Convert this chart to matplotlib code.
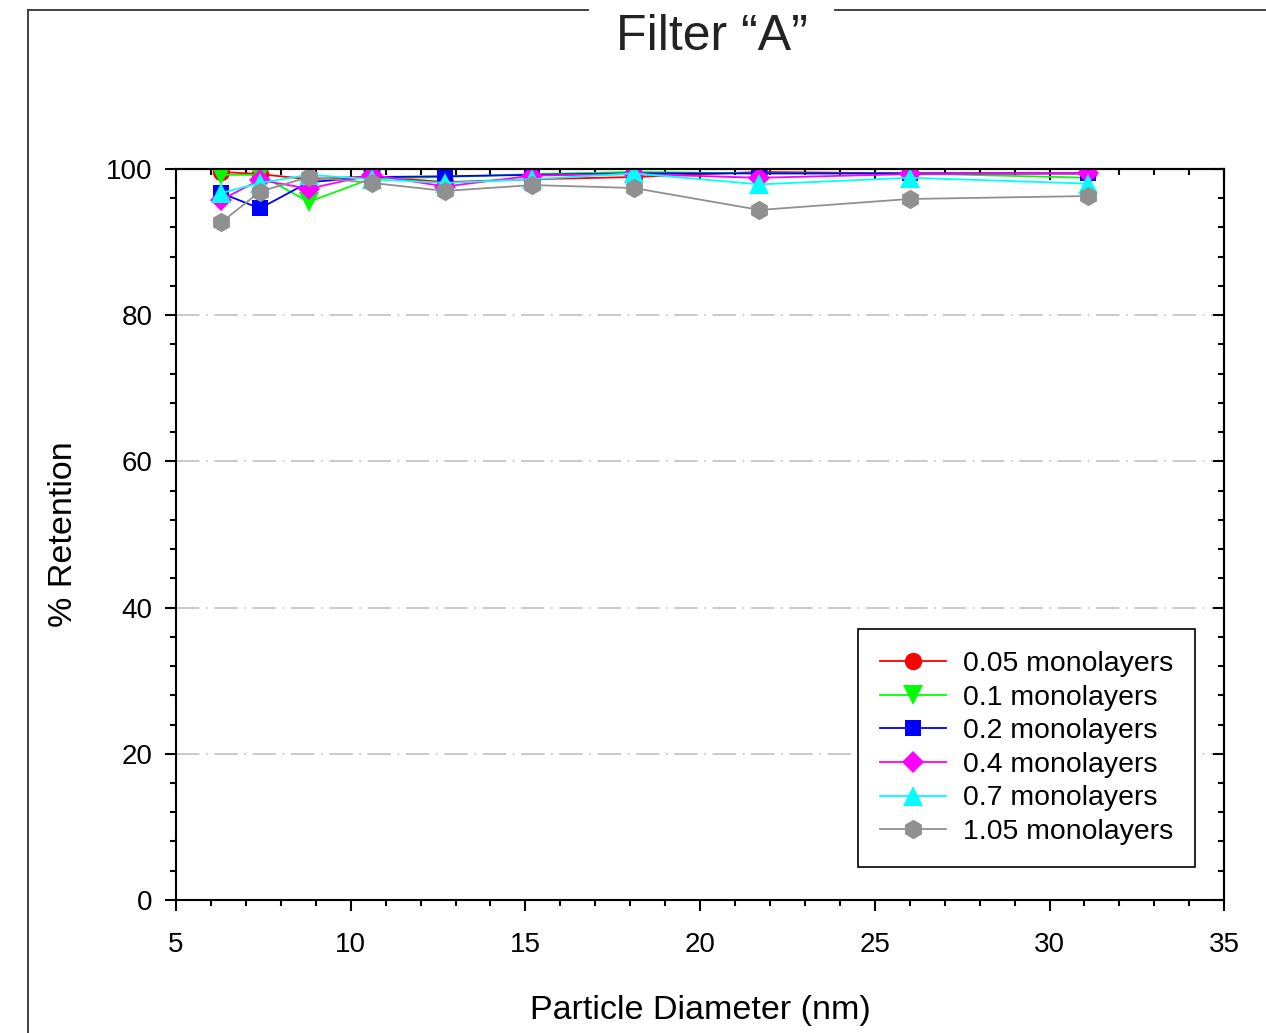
import matplotlib
matplotlib.use("Agg")
import matplotlib.pyplot as plt
from matplotlib.lines import Line2D
from matplotlib.ticker import MultipleLocator

plt.rcParams["font.family"] = ["Liberation Sans", "DejaVu Sans"]

# particle diameters (nm)
diameter = [6.3, 7.4, 8.8, 10.6, 12.7, 15.2, 18.1, 21.7, 26.0, 31.1]

labels = ["0.05 monolayers", "0.1 monolayers", "0.2 monolayers",
          "0.4 monolayers", "0.7 monolayers", "1.05 monolayers"]

ret_005 = [99.6, 99.3, 98.6, 99.0, 98.2, 98.6, 98.9, 99.6, 99.4, 99.4]
ret_01 = [99.2, 99.2, 95.5, 98.7, 98.9, 99.3, 99.6, 99.4, 99.4, 98.8]
ret_02 = [96.7, 94.6, 98.2, 98.9, 99.0, 99.2, 99.4, 99.4, 99.4, 99.4]
ret_04 = [95.8, 98.5, 97.3, 99.2, 97.6, 99.1, 99.3, 98.8, 99.3, 99.4]
ret_07 = [96.7, 98.1, 99.2, 98.6, 98.1, 98.6, 99.4, 97.9, 98.8, 98.0]
ret_105 = [92.7, 96.9, 98.9, 98.1, 97.0, 97.8, 97.4, 94.4, 95.9, 96.3]

series = [ret_005, ret_01, ret_02, ret_04, ret_07, ret_105]
colors = ["#ff0000", "#00ff00", "#0000ff", "#ff00ff", "#00ffff", "#909090"]
markers = ["o", "v", "s", "D", "^", "h"]
msizes = [12.5, 14, 12, 11, 14, 14]

fig = plt.figure(figsize=(12.66, 10.33), dpi=100)
ax = fig.add_axes([0.139, 0.1288, 0.828, 0.7076])

for y, c, m, ms, lab in zip(series, colors, markers, msizes, labels):
    ax.plot(diameter, y, color=c, marker=m, markersize=ms, linewidth=1.3,
            markeredgewidth=0, label=lab)

ax.set_xlim(5, 35)
ax.set_ylim(0, 100)
ax.xaxis.set_major_locator(MultipleLocator(5))
ax.xaxis.set_minor_locator(MultipleLocator(1))
ax.yaxis.set_major_locator(MultipleLocator(20))
ax.yaxis.set_minor_locator(MultipleLocator(4))

ax.tick_params(which="both", direction="out", top=False, right=False,
               width=1.5, labelsize=20)
ax.tick_params(which="major", length=8)
ax.tick_params(which="minor", length=4)
ax.tick_params(axis="x", which="major", pad=15)
ax.tick_params(axis="y", which="major", pad=9)

# inward ticks on top and right
sec_x = ax.secondary_xaxis("top")
sec_x.xaxis.set_major_locator(MultipleLocator(5))
sec_x.xaxis.set_minor_locator(MultipleLocator(1))
sec_x.tick_params(which="both", direction="in", width=1.5, labeltop=False)
sec_x.tick_params(which="major", length=8)
sec_x.tick_params(which="minor", length=4)
sec_y = ax.secondary_yaxis("right")
sec_y.yaxis.set_major_locator(MultipleLocator(20))
sec_y.yaxis.set_minor_locator(MultipleLocator(4))
sec_y.tick_params(which="both", direction="in", width=1.5, labelright=False)
sec_y.tick_params(which="major", length=8)
sec_y.tick_params(which="minor", length=4)
for s in ax.spines.values():
    s.set_linewidth(1.5)
sec_x.spines["top"].set_linewidth(1.5)
sec_y.spines["right"].set_linewidth(1.5)

for g in [20, 40, 60, 80]:
    ax.axhline(g, color="#c0c0c0", linewidth=1.2,
               linestyle=(0, (14, 4, 1, 4)), zorder=0)

ax.set_xlabel("Particle Diameter (nm)", fontsize=24.5, labelpad=27)
ax.set_ylabel("% Retention", fontsize=24.5, labelpad=19)

leg = ax.legend(loc="upper left", bbox_to_anchor=(0.651, 0.371), fontsize=20.4,
                fancybox=False, framealpha=1, edgecolor="black",
                borderpad=0.78, handlelength=2.3, labelspacing=0.27,
                handletextpad=0.6, borderaxespad=0)
leg.get_frame().set_linewidth(1.2)

# outer frame with title gap
W, H = 1266, 1033
fig.add_artist(Line2D([28 / W, 28 / W], [0, 1 - 10 / H], color="#333333",
                      linewidth=1.3))
fig.add_artist(Line2D([28 / W, 588 / W], [1 - 10 / H, 1 - 10 / H],
                      color="#333333", linewidth=1.3))
fig.add_artist(Line2D([835 / W, 1], [1 - 10 / H, 1 - 10 / H],
                      color="#333333", linewidth=1.3))
fig.text(712 / W, 1 - 37 / H, "Filter \u201cA\u201d", fontsize=36,
         ha="center", va="center", color="#222222")

fig.savefig("out.png", dpi=100)
